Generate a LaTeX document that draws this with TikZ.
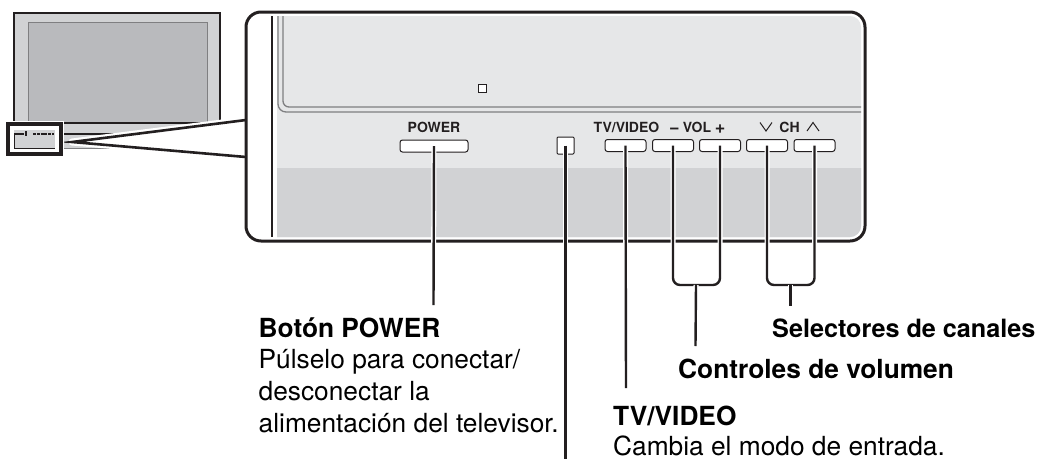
\documentclass[tikz,border=0pt]{standalone}
\usepackage{fontspec}
\setmainfont{TeX Gyre Heros}
\definecolor{ink}{HTML}{231F20}
\definecolor{lightgrey}{HTML}{E6E7E8}
\definecolor{midgrey}{HTML}{D1D2D4}
\definecolor{screengrey}{HTML}{B9BABD}
\definecolor{trimgrey}{HTML}{7F7F81}
\tikzstyle{button}=[draw=ink,fill=white,line width=1pt,rounded corners=2.5pt,minimum height=12pt,inner sep=0pt]
\tikzstyle{leader}=[draw=ink,line width=2.4pt,preaction={draw=white,line width=5pt}]
\tikzstyle{smalltext}=[text=ink,inner sep=0pt,anchor=base,font=\fontsize{14}{16}\selectfont\bfseries]
\tikzstyle{signtext}=[text=ink,inner sep=0pt,anchor=base,font=\fontsize{18}{20}\selectfont\bfseries]
\tikzstyle{maintext}=[text=black,inner sep=0pt,anchor=base west,font=\fontsize{26.3}{32}\selectfont\bfseries]
\tikzstyle{bodytext}=[text=black,inner sep=0pt,anchor=base west,font=\fontsize{26.3}{31.8}\selectfont]
\begin{document}
\begin{tikzpicture}[x=1pt,y=-1pt]
	\useasboundingbox (0,0) rectangle (1037,459);
	
	% small television
	\fill[midgrey] (14,13) rectangle (220,148);
	\fill[screengrey] (28,22) rectangle (207,123);
	\draw[trimgrey,line width=1pt] (28,123) -- (28,22) -- (207,22) -- (207,123);
	\draw[ink,line width=1.2pt] (28,123) -- (207,123);
	\draw[ink,line width=2.4pt] (14,148) -- (14,13) -- (220,13) -- (220,124);
	\draw[ink,line width=1.8pt] (62,134) -- (140,134);
	\draw[trimgrey,line width=1pt] (62,148) -- (118,148);
	
	% wedge towards the panel
	\coordinate (wedgetop) at (246,120);
	\coordinate (wedgetip) at (72,142);
	\coordinate (wedgebot) at (246,157);
	\draw[fill=white,draw=ink,line width=2.6pt,preaction={draw=white,line width=7pt,line join=round}] (wedgetop) -- (wedgetip) -- (wedgebot);
	
	% zoom box on the television
	\draw[ink,fill=white,line width=3.6pt,preaction={draw=white,line width=6pt}] (8,124) rectangle (61,154);
	\fill[midgrey] (14,130) rectangle (55,148);
	\draw[ink,line width=1.2pt] (14,134) -- (24,134);
	\draw[ink,line width=2pt] (26,131) -- (26,136);
	\draw[ink,line width=1.6pt,dash pattern=on 3pt off 0.8pt] (33,134) -- (54,134);
	\draw[ink,line width=1pt] (14,134) -- (14,148) -- (55,148);
	
	% panel
	\draw[ink,fill=white,line width=3pt,rounded corners=15pt] (246,12) rectangle (865,241);
	\fill[lightgrey] (277,16) [rounded corners=11pt] -- (861,16) -- (861,237) [sharp corners] -- (277,237) -- cycle;
	\fill[midgrey] (277,168) -- (861,168) [rounded corners=11pt] -- (861,237) [sharp corners] -- (277,237) -- cycle;
	\draw[ink,line width=2.4pt] (272,16) -- (272,237);
	\draw[trimgrey,line width=1.3pt,rounded corners=6pt] (283,16) -- (283,107) -- (861,107);
	\draw[trimgrey,line width=1.3pt,rounded corners=8pt] (278,16) -- (278,112) -- (861,112);
	\node[draw=ink,fill=white,line width=1.2pt,minimum size=8pt,inner sep=0pt] (lamp) at (482.5,88.5) {};
	
	% buttons
	\node[button,minimum width=68pt] (btnpower) at (434,146) {};
	\node[draw=ink,fill=white,line width=1pt,rounded corners=1pt,minimum width=17pt,minimum height=17pt,inner sep=0pt] (sensor) at (565.5,145.5) {};
	\node[button,minimum width=41pt] (btnvideo) at (625.5,145.5) {};
	\node[button,minimum width=41pt] (btnvolminus) at (673,145.5) {};
	\node[button,minimum width=41pt] (btnvolplus) at (720,145.5) {};
	\node[button,minimum width=41pt] (btnchdown) at (767,145.5) {};
	\node[button,minimum width=41pt] (btnchup) at (814.5,145.5) {};
	
	% printing on the panel
	\node[smalltext] (txtpower) at (434,132) {POWER};
	\node[smalltext] (txtvideo) at (626.5,132) {TV/VIDEO};
	\node[signtext] (txtminus) at (674.5,133) {−};
	\node[smalltext] (txtvol) at (697,132) {VOL};
	\node[signtext] (txtplus) at (720,133) {+};
	\node[smalltext] (txtch) at (789.5,132) {CH};
	\draw[ink,line width=1pt] (760,122.5) -- (766,131) -- (772,122.5);
	\draw[ink,line width=1pt] (807,131) -- (813,122.5) -- (819,131);
	
	% labels
	\node[maintext] (lblpower) at (258.5,337) {Botón POWER};
	\node[bodytext,align=left] (lblpowerbody) at (258.5,432.5) {Púlselo para conectar/\\desconectar la\\alimentación del televisor.};
	\node[maintext] (lblvol) at (678,378) {Controles de volumen};
	\node[maintext,font=\fontsize{25.2}{32}\selectfont\bfseries] (lblch) at (772,337) {Selectores de canales};
	\node[maintext] (lblvideo) at (613,425) {TV/VIDEO};
	\node[bodytext] (lblvideobody) at (613,455.5) {Cambia el modo de entrada.};
	
	% leaders
	\coordinate (endpower) at (433.5,305);
	\coordinate (endsensor) at (565.5,459);
	\coordinate (endvideo) at (626,388);
	\coordinate (volbot) at (696,285);
	\coordinate (endvol) at (695.5,346);
	\coordinate (chbot) at (790.5,285);
	\coordinate (endch) at (790.5,306);
	\draw[leader] (btnpower.center) -- (endpower);
	\draw[leader] (sensor.center) -- (endsensor);
	\draw[leader] (btnvideo.center) -- (endvideo);
	\draw[leader,rounded corners=7pt] (btnvolminus.center) |- (volbot) -| (btnvolplus.center);
	\draw[leader,rounded corners=7pt] (btnchdown.center) |- (chbot) -| (btnchup.center);
	\draw[leader] (volbot) -- (endvol);
	\draw[leader] (chbot) -- (endch);
\end{tikzpicture}
\end{document}
